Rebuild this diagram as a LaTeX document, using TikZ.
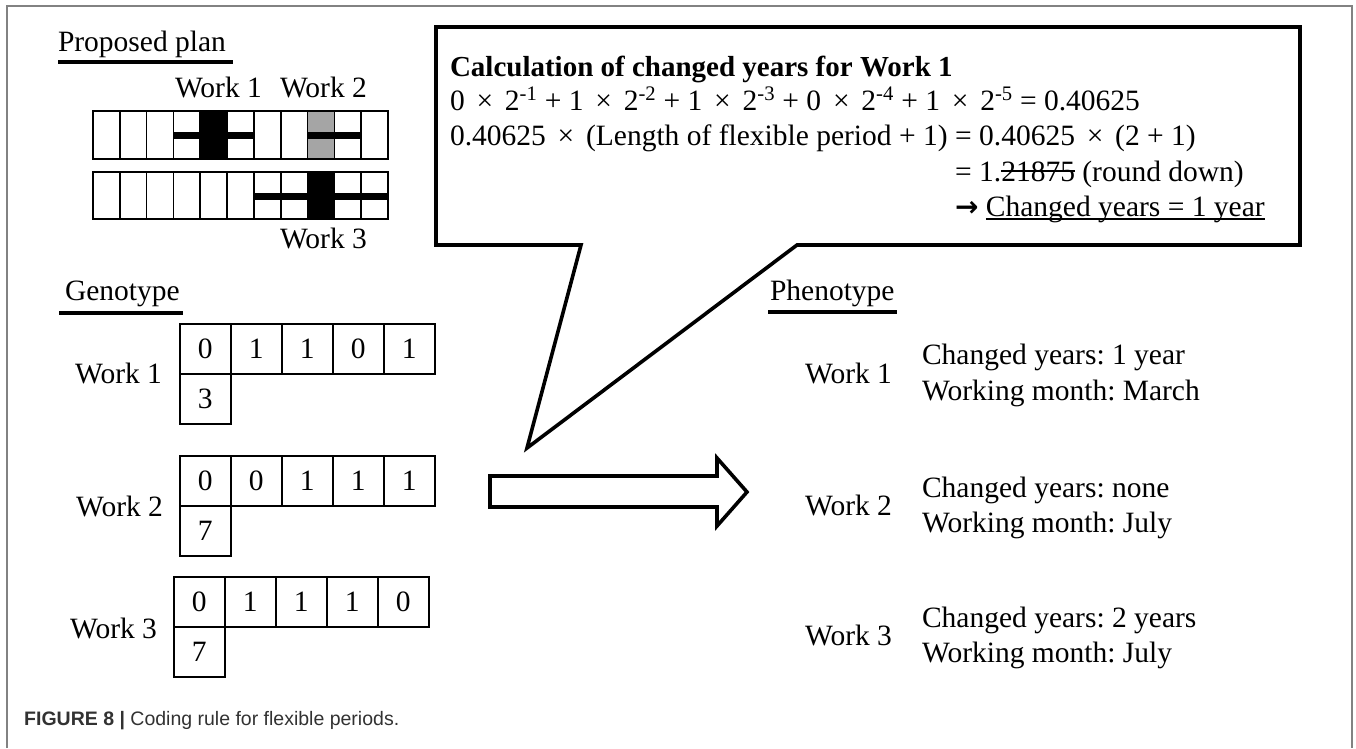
\documentclass[tikz,border=0pt]{standalone}
\usepackage{fontspec}
\setmainfont{Liberation Serif}
\newfontfamily\capfont{Liberation Sans}
\newfontfamily\arrowfont{DejaVu Sans}
\definecolor{framegray}{RGB}{130,130,130}
\definecolor{plangray}{RGB}{165,165,165}
\definecolor{captext}{RGB}{50,50,50}
\newsavebox\wordbox
% struck-out and underlined words
\newcommand\strk[1]{\sbox\wordbox{#1}\rlap{\rule[0.3em]{\wd\wordbox}{0.06em}}\usebox\wordbox}
\newcommand\undl[1]{\sbox\wordbox{#1}\rlap{\rule[-0.13em]{\wd\wordbox}{0.06em}}\usebox\wordbox}
\newcommand\sps[1]{\textsuperscript{#1}}
\newcommand\tms{\hspace{0.4em}×\hspace{0.4em}}
\frenchspacing
\begin{document}
\begin{tikzpicture}[x=1pt,y=-1pt,
  txt/.style={font=\fontsize{29.5}{34}\selectfont, inner sep=0pt, outer sep=0pt},
  lw/.style={txt, anchor=base west},
  le/.style={txt, anchor=base east},
  headrule/.style={line width=3.2pt},
  gridline/.style={line width=1.6pt},
  cell/.style={draw, line width=1.6pt, minimum width=51pt, minimum height=50pt,
    inner sep=0pt, anchor=north west, font=\fontsize{29.5}{34}\selectfont},
  bar/.style={line width=7pt},
  heavy/.style={line width=3.6pt, line join=miter, fill=white}
]
\useasboundingbox (0,0) rectangle (1356,748);

% outer frame, open at the bottom
\draw[framegray, line width=1.5pt] (7,748) -- (7,6) -- (1352,6) -- (1352,748);

% ---------- proposed plan ----------
\node[lw] (plan) at (58,51) {Proposed plan};
\draw[headrule] (58,62) -- (233,62);
\node[lw] (w1top) at (175,97) {Work 1};
\node[lw] (w2top) at (280,97) {Work 2};
\node[lw] (w3bot) at (280,248) {Work 3};

\def\cw{26.82}
% filled periods
\fill[black]    ({93+4*\cw},111) rectangle ({93+5*\cw},159);
\fill[plangray] ({93+8*\cw},111) rectangle ({93+9*\cw},159);
\fill[black]    ({93+8*\cw},172) rectangle ({93+9*\cw},219);
% year cells
\foreach \i in {0,...,10}{
  \draw[gridline] ({93+\i*\cw},111) rectangle ({93+(\i+1)*\cw},159);
  \draw[gridline] ({93+\i*\cw},172) rectangle ({93+(\i+1)*\cw},219);
}
% flexible periods
\draw[bar] ({93+3*\cw},135) -- ({93+6*\cw},135);
\draw[bar] ({93+8*\cw},135) -- ({93+10*\cw},135);
\draw[bar] ({93+6*\cw},196) -- ({93+11*\cw},196);

% ---------- genotype ----------
\node[lw] (geno) at (65,300) {Genotype};
\draw[headrule] (59,313) -- (183,313);

\node[le] (gw1) at (162,383) {Work 1};
\foreach \v [count=\k] in {0,1,1,0,1}
  \node[cell] (ga\k) at ({179+(\k-1)*51},323) {\v};
\node[cell] (ga6) at (179,373) {3};

\node[le] (gw2) at (163,516) {Work 2};
\foreach \v [count=\k] in {0,0,1,1,1}
  \node[cell] (gb\k) at ({179+(\k-1)*51},455) {\v};
\node[cell] (gb6) at (179,505) {7};

\node[le] (gw3) at (157,638) {Work 3};
\foreach \v [count=\k] in {0,1,1,1,0}
  \node[cell] (gc\k) at ({173+(\k-1)*51},576) {\v};
\node[cell] (gc6) at (173,626) {7};

% ---------- decoding arrow ----------
\coordinate (arrS) at (490,491.5);
\coordinate (arrT) at (747,492);
\draw[heavy] (arrS) ++(0,-15.5) -- (717,476) -- (717,458) -- (arrT)
  -- (717,526) -- (717,507) -- (490,507) -- cycle;

% ---------- callout ----------
\coordinate (tip) at (527,448);
\draw[heavy] (436,27) -- (1300,27) -- (1300,245) -- (797,245) -- (tip)
  -- (581,245) -- (436,245) -- cycle;

\node[lw, font=\fontsize{29}{34}\selectfont\bfseries] (c1) at (450,76)
  {Calculation of changed years for Work 1};
\node[lw] (c2) at (450,110)
  {0\tms 2\sps{-1} + 1\tms 2\sps{-2} + 1\tms 2\sps{-3} + 0\tms 2\sps{-4} + 1\tms 2\sps{-5} = 0.40625};
\node[lw] (c3a) at (450,145) {0.40625\tms (Length of flexible period + 1)};
\node[lw, xshift=7.5pt] (c3b) at (c3a.base east) {= 0.40625\tms (2 + 1)};
\node[lw] (c4) at (c3b.base west |- 0,181) {= 1.\strk{21875} (round down)};
\node[lw] (c5) at (c3b.base west |- 0,216) {{\arrowfont\bfseries\fontsize{28}{30}\selectfont →} \undl{Changed years = 1 year}};

% ---------- phenotype ----------
\node[lw] (pheno) at (770,300) {Phenotype};
\draw[headrule] (768,312) -- (897,312);

\node[lw] (pw1) at (805,383) {Work 1};
\node[lw] (p1a) at (922,364) {Changed years: 1 year};
\node[lw] (p1b) at (922,400) {Working month: March};

\node[lw] (pw2) at (805,515) {Work 2};
\node[lw] (p2a) at (922,497) {Changed years: none};
\node[lw] (p2b) at (922,532) {Working month: July};

\node[lw] (pw3) at (805,645) {Work 3};
\node[lw] (p3a) at (922,627) {Changed years: 2 years};
\node[lw] (p3b) at (922,662) {Working month: July};

% ---------- caption ----------
\node[anchor=base west, inner sep=0pt, text=captext, font=\capfont\fontsize{19.5}{23}\selectfont]
  (cap) at (24,725) {\textbf{FIGURE 8 |} Coding rule for flexible periods.};
\end{tikzpicture}
\end{document}
